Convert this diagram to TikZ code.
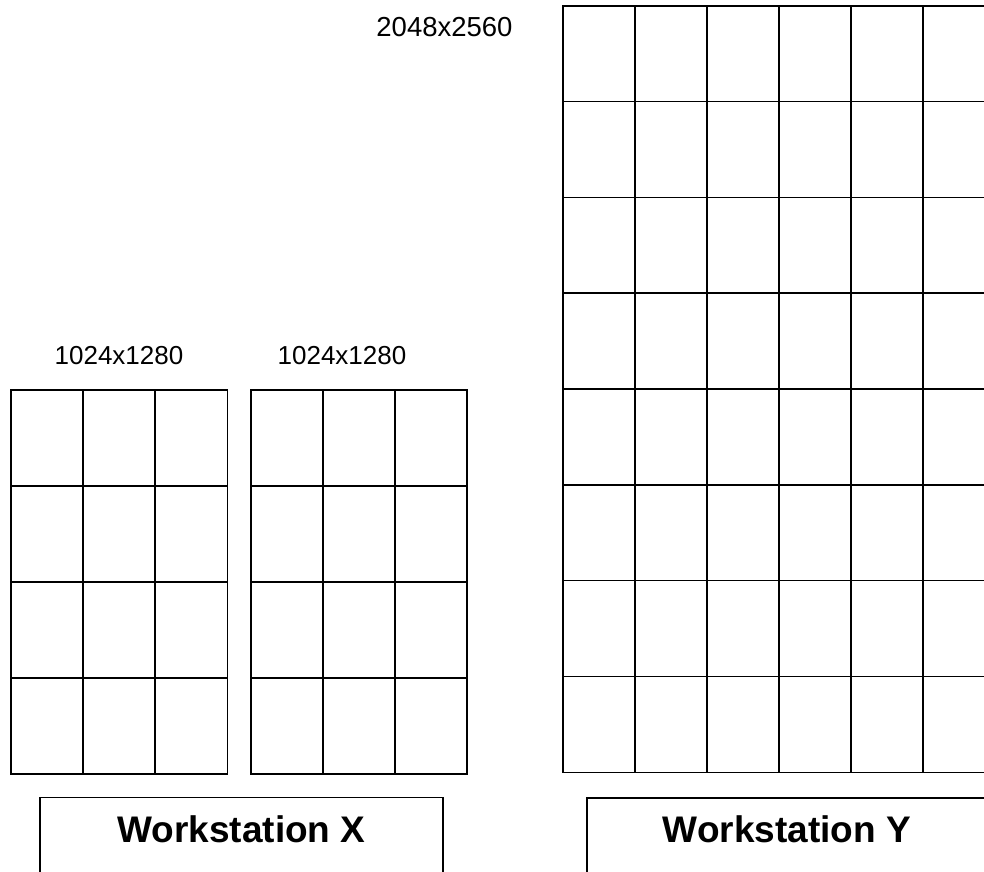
\documentclass[tikz,border=0pt]{standalone}
\usepackage{fontspec}
\setmainfont{Liberation Sans}
\begin{document}
\begin{tikzpicture}[x=1pt,y=-1pt,
  gridline/.style={line width=1.6pt,black},
  wsbox/.style={line width=1.1pt,black},
  sizelbl/.style={font=\fontsize{26}{30}\selectfont,inner sep=0pt},
  wslbl/.style={font=\fontsize{37}{42}\selectfont\bfseries,inner sep=0pt}]
\useasboundingbox (0,0) rectangle (984,871);
\clip (0,0) rectangle (984,871);
% left grid 1
\draw[gridline] (10.7,390) rectangle (227.3,773.7);
\foreach \x in {82.9,155.1} \draw[gridline] (\x,390) -- (\x,773.7);
\foreach \y in {486,582,678} \draw[gridline] (10.7,\y) -- (227.3,\y);
% left grid 2
\draw[gridline] (250.7,390) rectangle (466.7,773.7);
\foreach \x in {322.7,394.7} \draw[gridline] (\x,390) -- (\x,773.7);
\foreach \y in {486,582,678} \draw[gridline] (250.7,\y) -- (466.7,\y);
% big grid
\draw[gridline] (563,5.7) rectangle (995,772.3);
\foreach \x in {635,707,779,851,923} \draw[gridline] (\x,5.7) -- (\x,772.3);
\foreach \y in {101.5,197.3,293.1,388.9,484.7,580.5,676.4} \draw[gridline] (563,\y) -- (995,\y);
% labels
\node[sizelbl,font=\fontsize{27.5}{32}\selectfont] (lblY) at (444.5,27) {2048x2560};
\node[sizelbl] (lblA) at (119,356) {1024x1280};
\node[sizelbl] (lblB) at (342,356) {1024x1280};
% workstation boxes
\draw[wsbox] (40,900) -- (40,797.3) -- (443,797.3) -- (443,900);
\node[wslbl] (wsX) at (241.5,829.7) {Workstation X};
\draw[wsbox] (587,900) -- (587,798) -- (1000,798);
\node[wslbl] (wsY) at (787,829.7) {Workstation Y};
\end{tikzpicture}
\end{document}
